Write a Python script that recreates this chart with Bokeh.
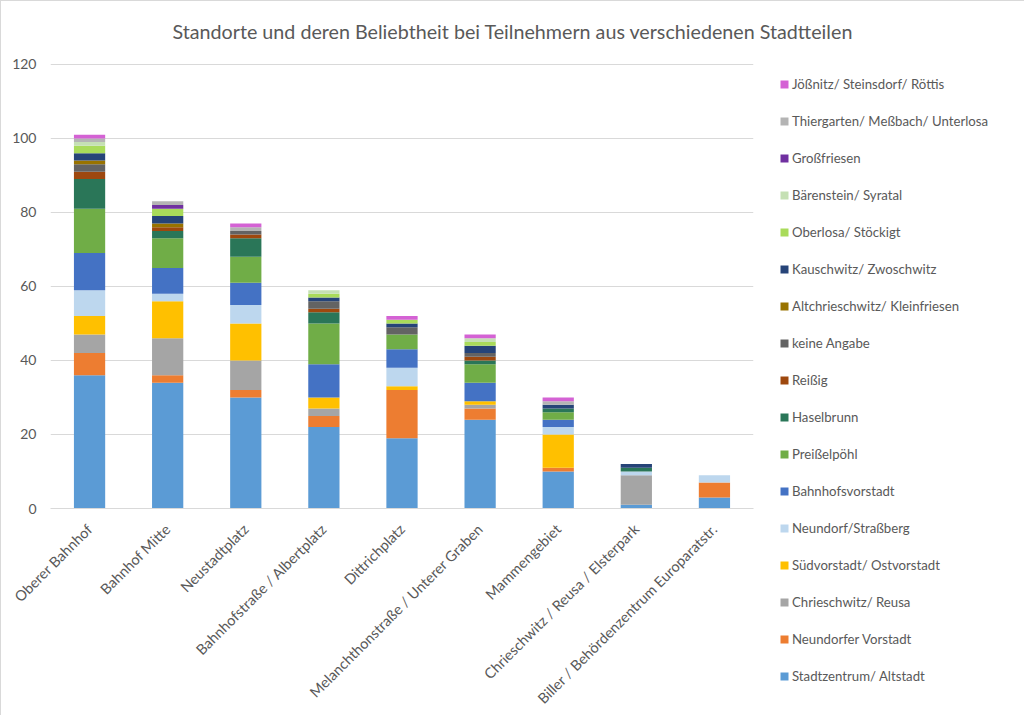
from math import pi
from bokeh.plotting import figure
from bokeh.models import ColumnDataSource, Legend, LegendItem, Range1d, SingleIntervalTicker
from bokeh.embed import file_html
from bokeh.resources import INLINE

categories = [
    "Oberer Bahnhof",
    "Bahnhof Mitte",
    "Neustadtplatz",
    "Bahnhofstraße / Albertplatz",
    "Dittrichplatz",
    "Melanchthonstraße / Unterer Graben",
    "Mammengebiet",
    "Chrieschwitz / Reusa / Elsterpark",
    "Biller / Behördenzentrum Europaratstr.",
]

# series in stacking order (bottom -> top)
series_names = [
    "Stadtzentrum/ Altstadt",
    "Neundorfer Vorstadt",
    "Chrieschwitz/ Reusa",
    "Südvorstadt/ Ostvorstadt",
    "Neundorf/Straßberg",
    "Bahnhofsvorstadt",
    "Preißelpöhl",
    "Haselbrunn",
    "Reißig",
    "keine Angabe",
    "Altchrieschwitz/ Kleinfriesen",
    "Kauschwitz/ Zwoschwitz",
    "Oberlosa/ Stöckigt",
    "Bärenstein/ Syratal",
    "Großfriesen",
    "Thiergarten/ Meßbach/ Unterlosa",
    "Jößnitz/ Steinsdorf/ Röttis",
]

stadtzentrum = [36, 34, 30, 22, 19, 24, 10, 1, 3]
neundorfer_vorstadt = [6, 2, 2, 3, 13, 3, 1, 0, 4]
chrieschwitz_reusa = [5, 10, 8, 2, 0, 1, 0, 8, 0]
suedvorstadt = [5, 10, 10, 3, 1, 1, 9, 0, 0]
neundorf_strassberg = [7, 2, 5, 0, 5, 0, 2, 1, 2]
bahnhofsvorstadt = [10, 7, 6, 9, 5, 5, 2, 0, 0]
preisselpoehl = [12, 8, 7, 11, 4, 5, 2, 0, 0]
haselbrunn = [8, 2, 5, 3, 0, 1, 1, 1, 0]
reissig = [2, 1, 1, 1, 0, 1, 0, 0, 0]
keine_angabe = [2, 0, 1, 2, 2, 1, 0, 0, 0]
altchrieschwitz = [1, 1, 0, 0, 0, 0, 0, 0, 0]
kauschwitz = [2, 2, 0, 1, 1, 2, 1, 1, 0]
oberlosa = [2, 2, 0, 1, 1, 1, 0, 0, 0]
baerenstein = [1, 0, 0, 1, 0, 1, 0, 0, 0]
grossfriesen = [0, 1, 0, 0, 0, 0, 0, 0, 0]
thiergarten = [1, 1, 1, 0, 0, 0, 1, 0, 0]
joessnitz = [1, 0, 1, 0, 1, 1, 1, 0, 0]

series_values = [
    stadtzentrum, neundorfer_vorstadt, chrieschwitz_reusa, suedvorstadt,
    neundorf_strassberg, bahnhofsvorstadt, preisselpoehl, haselbrunn, reissig,
    keine_angabe, altchrieschwitz, kauschwitz, oberlosa, baerenstein,
    grossfriesen, thiergarten, joessnitz,
]

colors = [
    "#5B9BD5", "#ED7D31", "#A5A5A5", "#FFC000", "#BDD7EE", "#4472C4",
    "#70AD47", "#2A7658", "#9E480E", "#636363", "#997300", "#264478",
    "#A9DB5A", "#C5E0B4", "#7030A0", "#B4B4B4", "#D462D4",
]

y_ticks_interval = 20
TEXT = "#595959"
FONT = "Lato"

keys = [f"s{i}" for i in range(len(series_names))]
data = {"cat": categories}
for k, vals in zip(keys, series_values):
    data[k] = vals
source = ColumnDataSource(data)

p = figure(
    x_range=categories,
    y_range=Range1d(0, 120.5),
    frame_width=703,
    frame_height=446,
    min_border_left=49,
    min_border_right=267,
    min_border_top=61,
    min_border_bottom=204,
    output_backend="svg",
    toolbar_location=None,
    tools="",
)
p.styles = {"border": "1px solid #D9D9D9"}

renderers = p.vbar_stack(keys, x="cat", width=0.4, color=colors, line_color=None, source=source)

p.title.text = "Standorte und deren Beliebtheit bei Teilnehmern aus verschiedenen Stadtteilen"
p.title.align = "left"
p.title.vertical_align = "top"
p.title.offset = 122
p.title.standoff = 36
p.title.text_font = FONT
p.title.text_font_size = "19.7px"
p.title.text_font_style = "normal"
p.title.text_color = TEXT

p.outline_line_color = None
p.xgrid.grid_line_color = None
p.ygrid.grid_line_color = "#D9D9D9"
p.ygrid.grid_line_width = 1

p.yaxis.ticker = SingleIntervalTicker(interval=y_ticks_interval)
p.yaxis.axis_line_color = None
p.yaxis.major_tick_line_color = None
p.yaxis.minor_tick_line_color = None
p.yaxis.major_tick_out = 0
p.yaxis.major_tick_in = 0
p.yaxis.major_label_standoff = 10
p.yaxis.major_label_text_font = FONT
p.yaxis.major_label_text_font_size = "14px"
p.yaxis.major_label_text_color = TEXT

p.xaxis.axis_line_color = "#D9D9D9"
p.xaxis.major_tick_line_color = None
p.xaxis.minor_tick_line_color = None
p.xaxis.major_tick_out = 0
p.xaxis.major_tick_in = 0
p.xaxis.major_label_orientation = pi / 4
p.xaxis.major_label_standoff = 18
p.xaxis.major_label_text_font = FONT
p.xaxis.major_label_text_font_size = "14.5px"
p.xaxis.major_label_text_color = TEXT

items = [LegendItem(label=n, renderers=[r]) for n, r in zip(series_names, renderers)][::-1]
legend = Legend(
    items=items,
    location=(26, -178),
    glyph_width=10,
    glyph_height=10,
    label_height=20,
    label_standoff=3,
    spacing=17,
    padding=5,
    margin=0,
    label_text_font=FONT,
    label_text_font_size="13.2px",
    label_text_color=TEXT,
    background_fill_alpha=0,
    border_line_color=None,
)
p.add_layout(legend, "right")

open("out.html", "w").write(file_html(p, INLINE))
